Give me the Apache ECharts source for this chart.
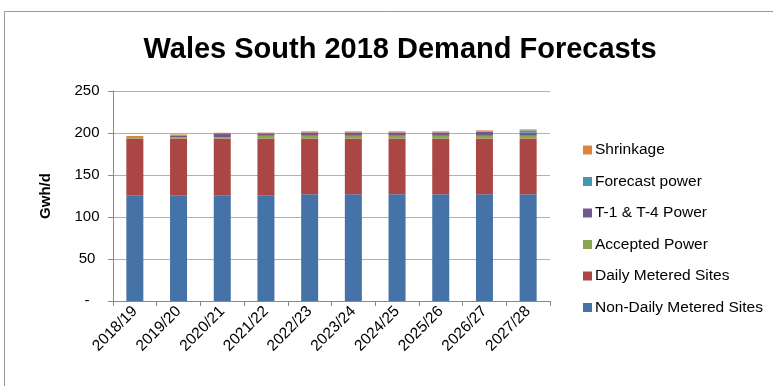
<!DOCTYPE html>
<html><head><meta charset="utf-8">
<script src="https://cdn.jsdelivr.net/npm/echarts@6/dist/echarts.min.js"></script>
<style>html,body{margin:0;padding:0;background:#fff}#c{width:773px;height:386px}</style>
</head><body><div id="c"></div>
<script>
const categories = ['2018/19','2019/20','2020/21','2021/22','2022/23','2023/24','2024/25','2025/26','2026/27','2027/28'];
const nonDaily = [126,126,126,126,127,127,127,127,127,127];
const dailyMetered = [67.5,67.5,67.5,67.5,66.5,66.5,66.5,66.5,66.5,66.5];
const acceptedPower = [1.2,1.2,1.6,3.2,3.2,3.2,3.2,3.2,3.2,3.2];
const t1t4Power = [0.5,2.4,4.4,2.8,4,4,4,4,4.8,4];
const forecastPower = [0,0,0,0,0,0,0,0,0.4,2.4];
const shrinkage = [1.2,1.2,0.8,1,1.2,1.2,1.2,1.2,1.2,1.2];
const yTicks = [0,50,100,150,200,250];

const font = 'Liberation Sans';
const seriesDefs = [
  ['Non-Daily Metered Sites', nonDaily, '#4572A7'],
  ['Daily Metered Sites', dailyMetered, '#AA4643'],
  ['Accepted Power', acceptedPower, '#89A54E'],
  ['T-1 & T-4 Power', t1t4Power, '#71588F'],
  ['Forecast power', forecastPower, '#4198AF'],
  ['Shrinkage', shrinkage, '#DB843D']
];
const chart = echarts.init(document.getElementById('c'), null, {renderer:'canvas'});
chart.setOption({
  animation:false,
  title:{text:'Wales South 2018 Demand Forecasts', left:395, top:30, textAlign:'center',
    textStyle:{fontFamily:font, fontSize:29, fontWeight:'bold', color:'#000'}},
  graphic:[{type:'rect', shape:{x:4.5,y:11.5,width:820,height:420}, style:{fill:'none', stroke:'#9a9a9a', lineWidth:1}, silent:true}],
  legend:{orient:'vertical', left:578, top:137, itemGap:15.5, itemWidth:9, itemHeight:9, icon:'rect',
    data:seriesDefs.map(s=>s[0]).reverse(),
    textStyle:{fontFamily:font, fontSize:15.5, color:'#000', padding:[0,0,0,-2]}},
  grid:{left:113, right:223, top:91, bottom:85},
  xAxis:{type:'category', data:categories,
    axisLine:{lineStyle:{color:'#888'}}, axisTick:{show:true, length:5, lineStyle:{color:'#888'}},
    axisLabel:{rotate:45, fontFamily:font, fontSize:15.5, color:'#000', margin:8, interval:0}},
  yAxis:{type:'value', min:0, max:250, interval:50, name:'Gwh/d', nameLocation:'middle', nameGap:60,
    nameTextStyle:{fontFamily:font, fontSize:15, fontWeight:'bold', color:'#000'},
    axisLine:{show:true, lineStyle:{color:'#888'}}, axisTick:{show:true, length:5, lineStyle:{color:'#888'}},
    splitLine:{lineStyle:{color:'#b0b0b0'}},
    axisLabel:{fontFamily:font, fontSize:15, color:'#000', margin:26, align:'center',
      formatter:v=> yTicks.includes(v) ? (v===0?'-':String(v)) : ''}},
  series:seriesDefs.map(s=>({name:s[0], type:'bar', stack:'t', data:s[1], barWidth:17,
    itemStyle:{color:s[2]}}))
});
</script></body></html>
